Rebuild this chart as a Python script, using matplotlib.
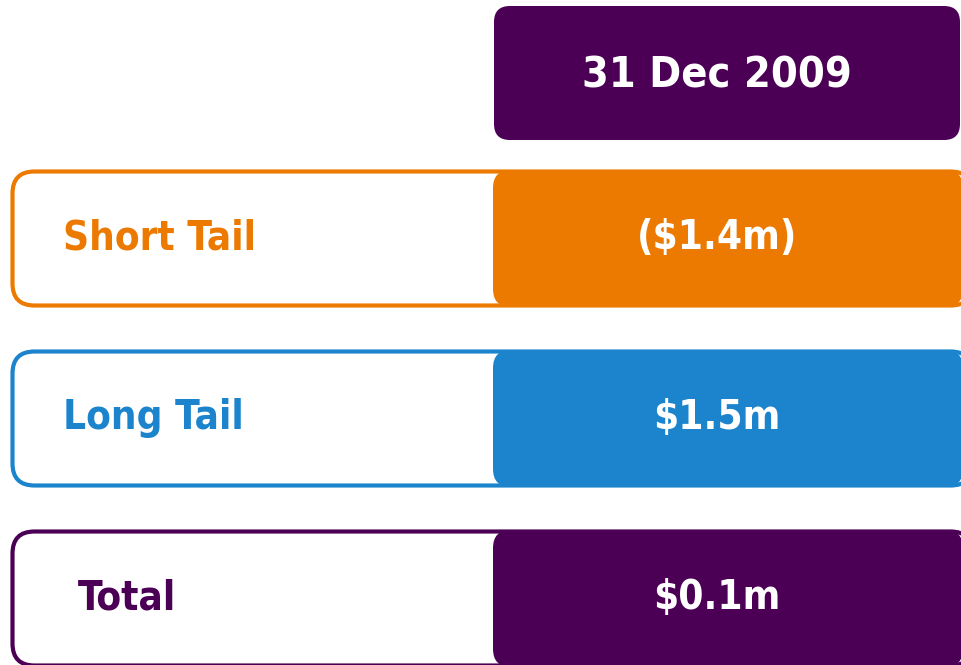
import matplotlib.pyplot as plt
from matplotlib.patches import FancyBboxPatch

# Table content
header = "31 Dec 2009"
categories = ["Short Tail", "Long Tail", "Total"]
values = ["($1.4m)", "$1.5m", "$0.1m"]
colors = ["#EC7A00", "#1B84CC", "#4B0055"]
header_color = "#4B0055"

plt.rcParams['font.family'] = ['DejaVu Sans']

fig = plt.figure(figsize=(9.62, 6.65), dpi=100)
ax = fig.add_axes([0, 0, 1, 1])
ax.set_xlim(0, 962)
ax.set_ylim(665, 0)
ax.axis("off")

txt = dict(fontweight="bold", fontstretch="condensed", va="center")

# header box
ax.add_patch(FancyBboxPatch((494, 6), 466, 134,
                            boxstyle="round,pad=0,rounding_size=16",
                            fc=header_color, ec="none"))
ax.text(717, 75, header, color="white", ha="center", fontsize=31, **txt)

row_tops = [170, 350, 530]
label_x = [63, 63, 78]
for top, lab, val, col, lx in zip(row_tops, categories, values, colors, label_x):
    # outlined label box
    ax.add_patch(FancyBboxPatch((12.5, top + 1.5), 960, 134,
                                boxstyle="round,pad=0,rounding_size=22",
                                fc="white", ec=col, lw=3.0))
    # filled value box
    ax.add_patch(FancyBboxPatch((493, top), 470, 137,
                                boxstyle="round,pad=0,rounding_size=18",
                                fc=col, ec="none"))
    ax.text(lx, top + 68, lab, color=col, ha="left", fontsize=29, **txt)
    ax.text(717, top + 68, val, color="white", ha="center", fontsize=29, **txt)

fig.savefig("out.png", dpi=100)
